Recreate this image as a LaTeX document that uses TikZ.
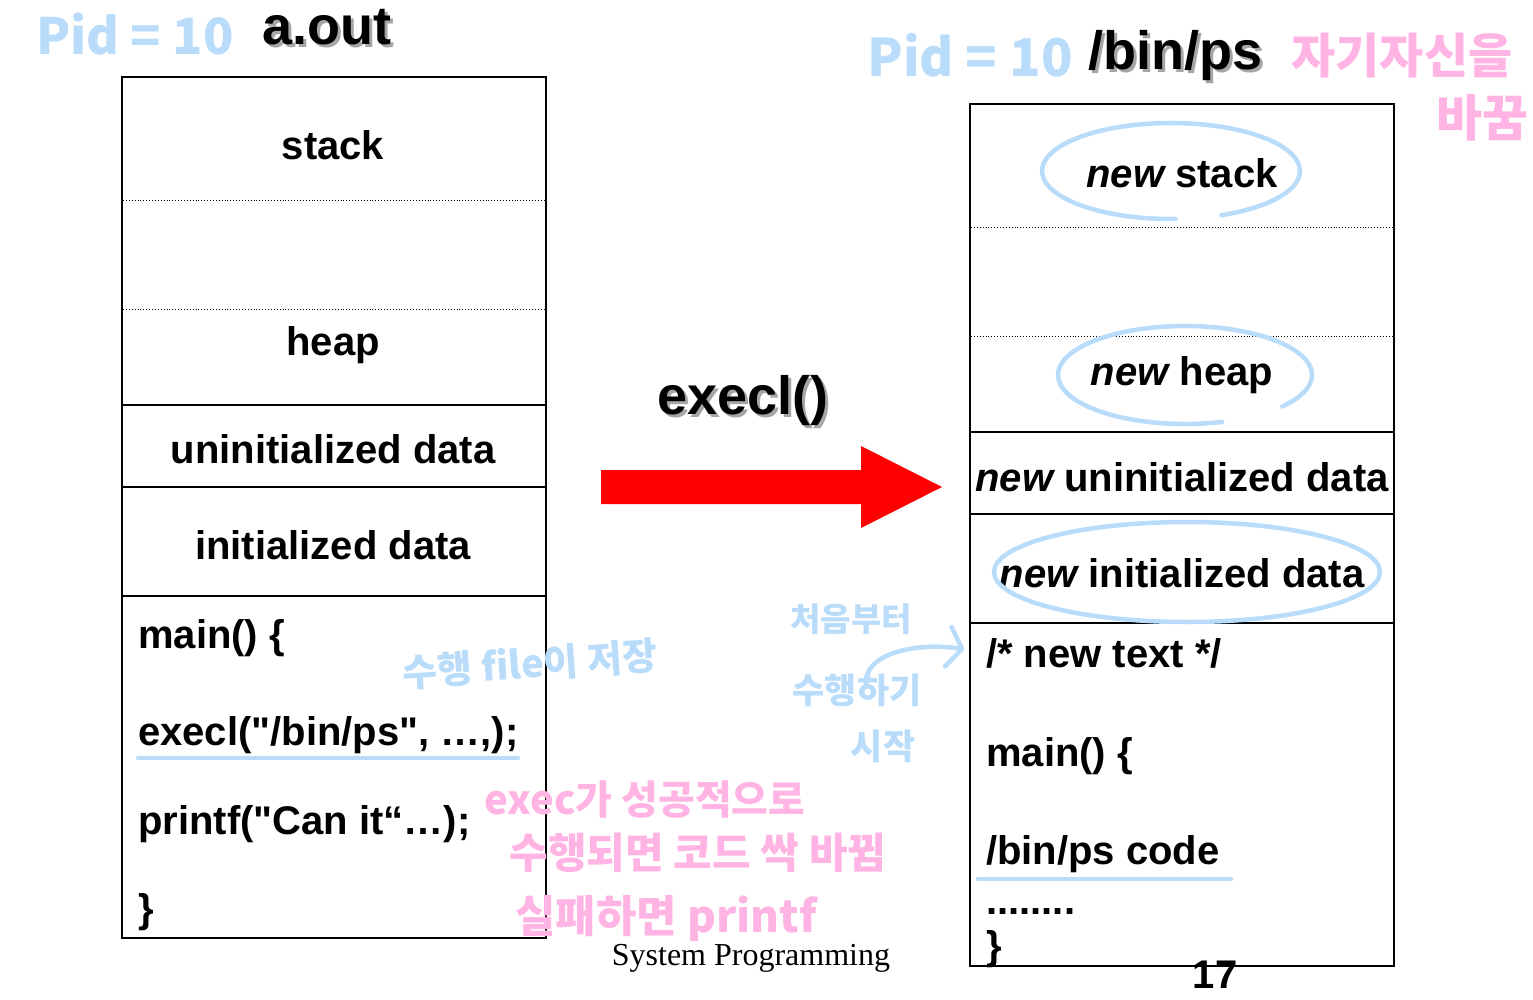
\documentclass[tikz,border=0pt]{standalone}
\usepackage{fontspec}
\setmainfont{Liberation Sans}[Ligatures=TeXOff]
\newfontfamily\serifrm{Liberation Serif}
\newfontfamily\kr{Noto Sans CJK KR}
\usetikzlibrary{arrows.meta}
\definecolor{noteblue}{RGB}{184,220,250}
\definecolor{notepink}{RGB}{255,180,228}
\definecolor{arrowred}{RGB}{255,0,0}
\begin{document}
\begin{tikzpicture}[x=1pt,y=-1pt,
  seg/.style={draw=black,line width=1.6pt},
  sepline/.style={draw=black,line width=0.9pt,dotted},
  lbl/.style={font=\bfseries\fontsize{40}{40}\selectfont, inner sep=0pt, anchor=base},
  code/.style={font=\bfseries\fontsize{40}{40}\selectfont, inner sep=0pt, anchor=base west},
  title/.style={font=\bfseries\fontsize{54}{54}\selectfont, inner sep=0pt, anchor=base},
  tshadow/.style={title, text=black!35},
  blnote/.style={font=\kr\bfseries\fontsize{33}{33}\selectfont, text=noteblue, inner sep=0pt},
  pknote/.style={font=\kr\bfseries\fontsize{40}{40}\selectfont, text=notepink, inner sep=0pt},
  hand/.style={draw=noteblue, line width=4.5pt, line cap=round},
]
\useasboundingbox (0,0) rectangle (1533,1000);

% ---------- left box: a.out ----------
\draw[seg] (122,77) rectangle (546,938);
\draw[sepline] (123,200) -- (545,200);
\draw[sepline] (123,309) -- (545,309);
\draw[seg] (122,405) -- (546,405);
\draw[seg] (122,487) -- (546,487);
\draw[seg] (122,596) -- (546,596);

\node[tshadow] (aoutS) at (330,48) {a.out};
\node[title] (aout) at (327,45) {a.out};

\node[lbl] (lstack) at (333,160) {stack};
\node[lbl] (lheap) at (333,355) {heap};
\node[lbl] (luninit) at (333,463) {uninitialized data};
\node[lbl] (linit) at (333,559) {initialized data};
\node[code] (lmain) at (138,648) {main() \{};
\node[code] (lexecl) at (138,745) {execl("/bin/ps", …,);};
\node[code] (lprintf) at (138,834) {printf("Can it“…);};
\node[code] (lclose) at (138,922) {\}};

% ---------- execl() arrow ----------
\node[tshadow] (execlS) at (746,417) {execl()};
\node[title] (execl) at (743,414) {execl()};
\fill[arrowred] (601,470) -- (861,470) -- (861,446) -- (942,487) -- (861,528) -- (861,504) -- (601,504) -- cycle;

% ---------- right box: /bin/ps ----------
\draw[seg] (970,104) rectangle (1394,966);
\draw[sepline] (971,227) -- (1393,227);
\draw[sepline] (971,336) -- (1393,336);
\draw[seg] (970,432) -- (1394,432);
\draw[seg] (970,514) -- (1394,514);
\draw[seg] (970,623) -- (1394,623);

\node[tshadow] (binpsS) at (1178,73) {/bin/ps};
\node[title] (binps) at (1175,70) {/bin/ps};

\node[lbl] (rstack) at (1182,188) {{\itshape new} stack};
\node[lbl] (rheap) at (1182,385) {{\itshape new} heap};
\node[lbl] (runinit) at (1182,491) {{\itshape new} uninitialized data};
\node[lbl] (rinit) at (1182,587) {{\itshape new} initialized data};
\node[code] (newtext) at (986,667) {/* new text */};
\node[code] (rmain) at (986,766) {main() \{};
\node[code] (rcode) at (986,864) {/bin/ps code};
\node[code] (rdots) at (986,914) {........};
\node[code] (rclose) at (986,959) {\}};

% ---------- footer ----------
\node[font=\serifrm\fontsize{32}{32}\selectfont, inner sep=0pt, anchor=base] (footer) at (751,965) {System Programming};
\node[font=\bfseries\fontsize{40}{40}\selectfont, inner sep=0pt, anchor=base] (pageno) at (1215,988) {17};

% ---------- light blue annotations ----------
\draw[hand] (1171,171) ++(88:129 and 48) arc[start angle=88, end angle=427, x radius=129, y radius=48];
\draw[hand] (1185,375) ++(73:127 and 49) arc[start angle=73, end angle=400, x radius=127, y radius=49];
\draw[hand] (1187,572) ellipse[x radius=193, y radius=50];
\draw[hand] (lexecl.base west) ++(0,13) coordinate (ulA) -- ++(380,0) coordinate (ulB);
\draw[hand] (rcode.base west) ++(-8,15) coordinate (ulC) -- ++(253,0) coordinate (ulD);

\node[blnote, font=\kr\bfseries\fontsize{50}{50}\selectfont] (pidL) at (135,34) {Pid = 10};
\node[blnote, font=\kr\bfseries\fontsize{52}{52}\selectfont] (pidR) at (970,55) {Pid = 10};
\node[blnote, font=\kr\bfseries\fontsize{38}{38}\selectfont, rotate=4] (savefile) at (530,664) {수행 file이 저장};
\node[blnote] (first) at (851,619) {처음부터};
\node[blnote, font=\kr\bfseries\fontsize{35}{35}\selectfont] (suhaeng) at (857,690) {수행하기};
\node[blnote, font=\kr\bfseries\fontsize{35}{35}\selectfont] (start) at (883,746) {시작};
\coordinate (arrS) at (866,686);
\draw[hand, -{Straight Barb[length=14pt,width=40pt,round]}, shorten >=22pt]
  (arrS) .. controls (862,652) and (920,642) .. (newtext.west);

% ---------- pink annotations ----------
\node[pknote, font=\kr\bfseries\fontsize{48}{48}\selectfont] (self) at (1402,56) {자기자신을};
\node[pknote, font=\kr\bfseries\fontsize{50}{50}\selectfont] (change) at (1482,118) {바꿈};
\node[pknote] (pk1) at (645,800) {exec가 성공적으로};
\node[pknote, font=\kr\bfseries\fontsize{42}{42}\selectfont] (pk2) at (698,853) {수행되면 코드 싹 바뀜};
\node[pknote, font=\kr\bfseries\fontsize{44}{44}\selectfont] (pk3) at (666,918) {실패하면 printf};
\end{tikzpicture}
\end{document}
